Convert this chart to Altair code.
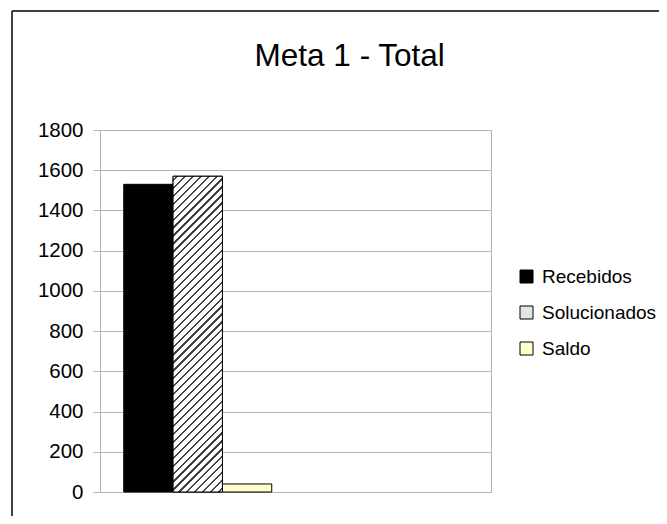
import altair as alt
import pandas as pd

# ---- data ----
categorias = ["Meta 1", " "]
series = ["Recebidos", "Solucionados", "Saldo"]
valores = [1530, 1570, 40]
cores = ["#000000", "#e4e4e4", "#ffffcc"]
ticks_y = [0, 200, 400, 600, 800, 1000, 1200, 1400, 1600, 1800]
titulo = "Meta 1 - Total"

df = pd.DataFrame({"categoria": [categorias[0]] * len(series),
                   "serie": series, "valor": valores})
one = pd.DataFrame({"k": [0]})

W, H = 391, 362
FONT = "Liberation Sans"
GRID = "#b3b3b3"

# hatch (diagonal stripes) built as a striped linear gradient
bw = W / 2 * (1 - 0.243) / 3.0
bh = 1570 / 1800 * H
k = (bw + bh) * bh / (bw ** 2 + bh ** 2)
gx2, gy2 = k * bw / bh, k
N = 46
stops = []
for i in range(N):
    a = (i + 0.38) / N
    b = (i + 0.66) / N
    stops += [
        {"offset": i / N, "color": "#ffffff"},
        {"offset": a, "color": "#ffffff"},
        {"offset": a, "color": "#444444"},
        {"offset": b, "color": "#444444"},
        {"offset": b, "color": "#ffffff"},
    ]
stops.append({"offset": 1, "color": "#ffffff"})
hatch = {"gradient": "linear", "x1": 0, "y1": 0, "x2": gx2, "y2": gy2, "stops": stops}

x_enc = alt.X("categoria:N",
              scale=alt.Scale(domain=categorias, paddingInner=0.243, paddingOuter=0.1215),
              axis=None)
xoff = alt.XOffset("serie:N", scale=alt.Scale(domain=series, paddingInner=0, paddingOuter=0))
y_enc = alt.Y("valor:Q",
              scale=alt.Scale(domain=[0, 1800], nice=False),
              axis=alt.Axis(values=ticks_y, format="d", title=None, grid=True, gridColor=GRID,
                            gridWidth=1, domain=True, domainColor=GRID, ticks=True,
                            tickColor=GRID, tickSize=7, labelFont=FONT, labelFontSize=20.5,
                            labelColor="#000000", labelPadding=10))

bars = alt.Chart(df).mark_bar(stroke="#000000", strokeWidth=1).encode(
    x=x_enc, xOffset=xoff, y=y_enc,
    color=alt.Color("serie:N",
                    scale=alt.Scale(domain=series, range=cores),
                    legend=alt.Legend(title=None, orient="none", legendX=417, legendY=137,
                                      padding=0, rowPadding=16, symbolType="square",
                                      symbolSize=169, symbolStrokeColor="#000000",
                                      symbolStrokeWidth=1, labelFont=FONT,
                                      labelFontSize=19, labelColor="#000000",
                                      labelOffset=6, labelLimit=200)),
)

hatched = alt.Chart(df).transform_filter(alt.datum.serie == "Solucionados").mark_bar(
    fill=hatch, stroke="#000000", strokeWidth=1
).encode(x=x_enc, xOffset=xoff, y=y_enc)

title_txt = alt.Chart(one).mark_text(
    font=FONT, fontSize=31.5, align="center", baseline="alphabetic", color="#000000"
).encode(x=alt.value(249.7), y=alt.value(-64), text=alt.value(titulo))

frame_left = alt.Chart(one).mark_rule(color="#000000", strokeWidth=1.5).encode(
    x=alt.value(-88), y=alt.value(-119), y2=alt.value(520))
frame_top = alt.Chart(one).mark_rule(color="#000000", strokeWidth=1.5).encode(
    y=alt.value(-119), x=alt.value(-88), x2=alt.value(700))

chart = alt.layer(bars, hatched, title_txt, frame_left, frame_top).properties(
    width=W, height=H,
    autosize=alt.AutoSizeParams(type="none"),
    padding={"left": 92, "top": 122, "right": 168, "bottom": 24},
    background="#ffffff",
).configure_view(stroke=GRID, strokeWidth=1)

chart.save("out.html", embed_options={"renderer": "svg", "actions": False})
